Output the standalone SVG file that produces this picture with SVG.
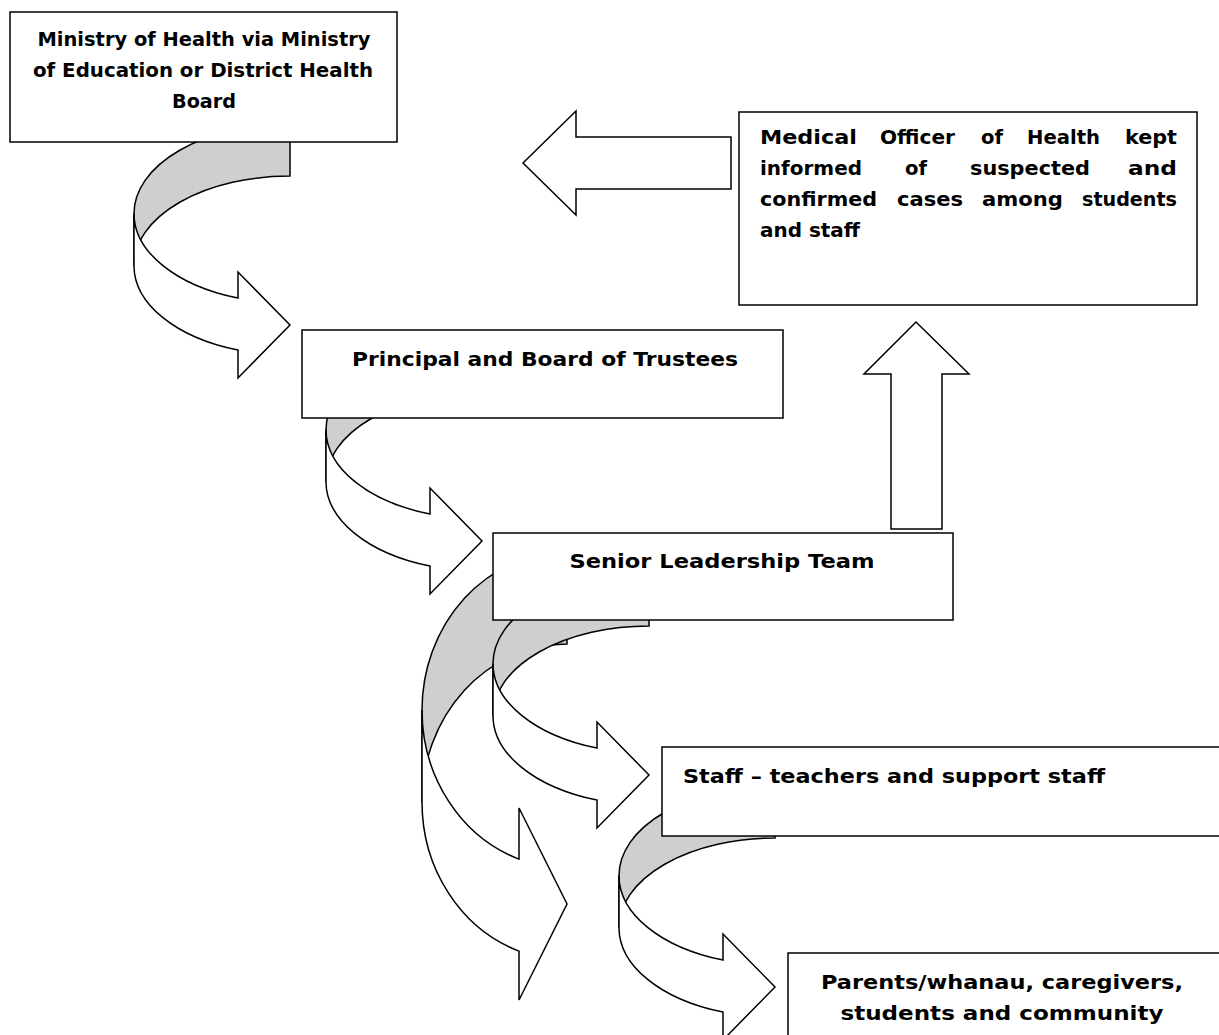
<svg xmlns="http://www.w3.org/2000/svg" width="1219" height="1035" viewBox="0 0 1219 1035">
<style>
.box{fill:#ffffff;stroke:#000000;stroke-width:1.5}
.front{fill:#ffffff;stroke:#000000;stroke-width:1.5;stroke-linejoin:miter}
.back{fill:#cfcfcf;stroke:#000000;stroke-width:1.5}
.t{font-family:"DejaVu Sans","Liberation Sans",sans-serif;font-weight:bold;font-size:20px;fill:#000000}
.c{text-anchor:middle}
</style>
<rect width="1219" height="1035" fill="#ffffff"/>
<g id="connectors">
  <!-- arrow 1: Ministry -> Principal -->
  <g id="arrow1">
    <path class="back" d="M290,124 A156 89.6 0 0 0 134,213.6 L134,265.6 A156 89.6 0 0 1 290,176 Z"/>
    <path class="front" d="M134,213.6 A156 89.6 0 0 0 238,298.1 L238,272 L290,325 L238,378 L238,350.1 A156 89.6 0 0 1 134,265.6 Z"/>
  </g>
  <!-- arrow 2: Principal -> SLT -->
  <g id="arrow2">
    <path class="back" d="M482,340 A156 89.6 0 0 0 326,429.6 L326,481.6 A156 89.6 0 0 1 482,392 Z"/>
    <path class="front" d="M326,429.6 A156 89.6 0 0 0 430,514.1 L430,488 L482,541 L430,594 L430,566.1 A156 89.6 0 0 1 326,481.6 Z"/>
  </g>
  <!-- arrow 4: SLT -> Parents (large) -->
  <g id="arrow4">
    <path class="back" d="M567,552 A145 158 0 0 0 422,710 L422,802 A145 158 0 0 1 567,644 Z"/>
    <path class="front" d="M422,710 A145 158 0 0 0 519,859.1 L519,808 L567,904 L519,1000 L519,951.1 A145 158 0 0 1 422,802 Z"/>
  </g>
  <!-- arrow 3: SLT -> Staff -->
  <g id="arrow3">
    <path class="back" d="M649,574 A156 89.6 0 0 0 493,663.6 L493,715.6 A156 89.6 0 0 1 649,626 Z"/>
    <path class="front" d="M493,663.6 A156 89.6 0 0 0 597,748.1 L597,722 L649,775 L597,828 L597,800.1 A156 89.6 0 0 1 493,715.6 Z"/>
  </g>
  <!-- arrow 5: Staff -> Parents -->
  <g id="arrow5">
    <path class="back" d="M775,786 A156 89.6 0 0 0 619,875.6 L619,927.6 A156 89.6 0 0 1 775,838 Z"/>
    <path class="front" d="M619,875.6 A156 89.6 0 0 0 723,960.1 L723,934 L775,987 L723,1040 L723,1012.1 A156 89.6 0 0 1 619,927.6 Z"/>
  </g>
  <!-- block arrow: Medical Officer -> Ministry -->
  <path id="arrow-left" class="front" d="M731,137 L576,137 L576,111 L523,163 L576,215 L576,189 L731,189 Z"/>
  <!-- block arrow: SLT -> Medical Officer -->
  <path id="arrow-up" class="front" d="M891,529 L891,374 L864,374 L916,322 L969,374 L942,374 L942,529 Z"/>
</g>
<g id="node-ministry">
  <rect class="box" x="10" y="12" width="387" height="130"/>
  <text class="t c" x="204" y="46" textLength="333" lengthAdjust="spacingAndGlyphs">Ministry of Health via Ministry</text>
  <text class="t c" x="203" y="77" textLength="340" lengthAdjust="spacingAndGlyphs">of Education or District Health</text>
  <text class="t c" x="204" y="108" textLength="64" lengthAdjust="spacingAndGlyphs">Board</text>
</g>
<g id="node-moh">
  <rect class="box" x="739" y="112" width="458" height="193"/>
  <text class="t" x="760" y="144" textLength="97" lengthAdjust="spacingAndGlyphs">Medical</text>
  <text class="t" x="880" y="144" textLength="75" lengthAdjust="spacingAndGlyphs">Officer</text>
  <text class="t" x="981" y="144" textLength="22" lengthAdjust="spacingAndGlyphs">of</text>
  <text class="t" x="1027" y="144" textLength="73" lengthAdjust="spacingAndGlyphs">Health</text>
  <text class="t" x="1125" y="144" textLength="52" lengthAdjust="spacingAndGlyphs">kept</text>
  <text class="t" x="760" y="175" textLength="102" lengthAdjust="spacingAndGlyphs">informed</text>
  <text class="t" x="905" y="175" textLength="22" lengthAdjust="spacingAndGlyphs">of</text>
  <text class="t" x="970" y="175" textLength="120" lengthAdjust="spacingAndGlyphs">suspected</text>
  <text class="t" x="1128" y="175" textLength="49" lengthAdjust="spacingAndGlyphs">and</text>
  <text class="t" x="760" y="206" textLength="117" lengthAdjust="spacingAndGlyphs">confirmed</text>
  <text class="t" x="897" y="206" textLength="66" lengthAdjust="spacingAndGlyphs">cases</text>
  <text class="t" x="982" y="206" textLength="81" lengthAdjust="spacingAndGlyphs">among</text>
  <text class="t" x="1082" y="206" textLength="95" lengthAdjust="spacingAndGlyphs">students</text>
  <text class="t" x="760" y="237" textLength="100" lengthAdjust="spacingAndGlyphs">and staff</text>
</g>
<g id="node-principal">
  <rect class="box" x="302" y="330" width="481" height="88"/>
  <text class="t c" x="545" y="366" textLength="386" lengthAdjust="spacingAndGlyphs">Principal and Board of Trustees</text>
</g>
<g id="node-slt">
  <rect class="box" x="493" y="533" width="460" height="87"/>
  <text class="t c" x="722" y="568" textLength="305" lengthAdjust="spacingAndGlyphs">Senior Leadership Team</text>
</g>
<g id="node-staff">
  <rect class="box" x="662" y="747" width="580" height="89"/>
  <text class="t" x="683" y="783" textLength="422" lengthAdjust="spacingAndGlyphs">Staff – teachers and support staff</text>
</g>
<g id="node-parents">
  <rect class="box" x="788" y="953" width="460" height="100"/>
  <text class="t c" x="1002" y="989" textLength="362" lengthAdjust="spacingAndGlyphs">Parents/whanau, caregivers,</text>
  <text class="t c" x="1002" y="1020" textLength="323" lengthAdjust="spacingAndGlyphs">students and community</text>
</g>
</svg>
